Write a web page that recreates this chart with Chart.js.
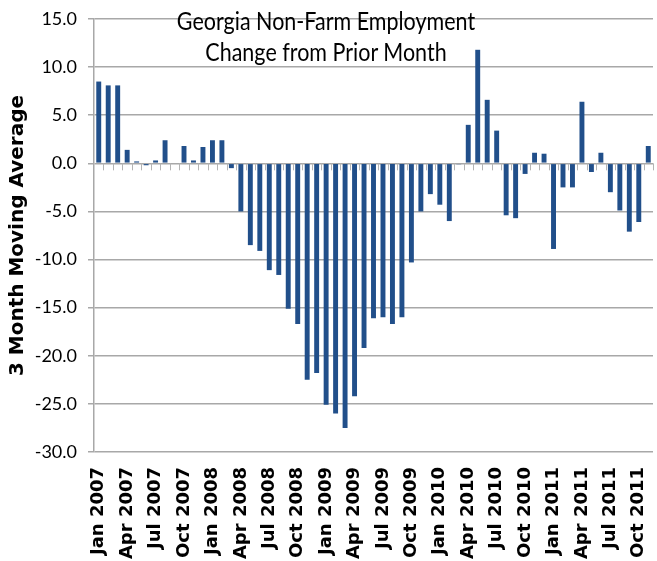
<!DOCTYPE html>
<html>
<head>
<meta charset="utf-8">
<script src="https://cdn.jsdelivr.net/npm/chart.js@4.4.1/dist/chart.umd.min.js"></script>
<style>
  html, body { margin: 0; padding: 0; background: #fff; }
  #wrap { position: relative; width: 657px; height: 561px; }
  #title {
    position: absolute; left: 126px; width: 400px; top: 6px;
    text-align: center; font-family: Lato, sans-serif; font-size: 21.5px;
    line-height: 27px; color: #000; white-space: nowrap; pointer-events: none;
    transform: scaleY(1.15); transform-origin: top center;
  }
</style>
</head>
<body>
<div id="wrap">
  <canvas id="empChart" width="657" height="561"></canvas>
  <div id="title">Georgia Non-Farm Employment<br>Change from Prior Month</div>
</div>
<script>
// Georgia non-farm jobs, change from prior month (3 month moving average, thousands)
const categories = [
  'Jan 2007', 'Feb 2007', 'Mar 2007', 'Apr 2007', 'May 2007', 'Jun 2007',
  'Jul 2007', 'Aug 2007', 'Sep 2007', 'Oct 2007', 'Nov 2007', 'Dec 2007',
  'Jan 2008', 'Feb 2008', 'Mar 2008', 'Apr 2008', 'May 2008', 'Jun 2008',
  'Jul 2008', 'Aug 2008', 'Sep 2008', 'Oct 2008', 'Nov 2008', 'Dec 2008',
  'Jan 2009', 'Feb 2009', 'Mar 2009', 'Apr 2009', 'May 2009', 'Jun 2009',
  'Jul 2009', 'Aug 2009', 'Sep 2009', 'Oct 2009', 'Nov 2009', 'Dec 2009',
  'Jan 2010', 'Feb 2010', 'Mar 2010', 'Apr 2010', 'May 2010', 'Jun 2010',
  'Jul 2010', 'Aug 2010', 'Sep 2010', 'Oct 2010', 'Nov 2010', 'Dec 2010',
  'Jan 2011', 'Feb 2011', 'Mar 2011', 'Apr 2011', 'May 2011', 'Jun 2011',
  'Jul 2011', 'Aug 2011', 'Sep 2011', 'Oct 2011', 'Nov 2011'
];
const movingAvg = [
  8.5, 8.1, 8.1, 1.4, 0.2, -0.2, 0.3, 2.4, 0.0, 1.8, 0.3, 1.7,
  2.4, 2.4, -0.5, -5.0, -8.5, -9.1, -11.1, -11.6, -15.1, -16.7, -22.5, -21.8,
  -25.1, -26.0, -27.5, -24.2, -19.2, -16.1, -16.0, -16.7, -16.0, -10.3, -5.0, -3.2,
  -4.3, -6.0, -0.1, 4.0, 11.8, 6.6, 3.4, -5.4, -5.7, -1.1, 1.1, 1.0,
  -8.9, -2.5, -2.5, 6.4, -0.9, 1.1, -3.0, -4.9, -7.1, -6.1, 1.8
];
const yMin = -30;
const yMax = 15;
const yStep = 5;

// small tick marks hanging under the zero line between months
const zeroTicks = {
  id: 'zeroTicks',
  afterDatasetsDraw(chart) {
    const { ctx, scales: { x, y } } = chart;
    const y0 = y.getPixelForValue(0);
    const half = (x.getPixelForValue(1) - x.getPixelForValue(0)) / 2;
    ctx.save();
    ctx.strokeStyle = '#b4b4b4';
    ctx.lineWidth = 1;
    ctx.beginPath();
    for (let i = 1; i <= categories.length; i++) {
      const px = Math.round(x.getPixelForValue(i) - half) + 0.5;
      ctx.moveTo(px, y0);
      ctx.lineTo(px, y0 + 7);
    }
    ctx.stroke();
    ctx.restore();
  }
};

new Chart(document.getElementById('empChart'), {
  type: 'bar',
  data: {
    labels: categories,
    datasets: [{
      data: movingAvg,
      backgroundColor: '#214f8a',
      borderWidth: 0,
      barPercentage: 0.52,
      categoryPercentage: 1.0
    }]
  },
  options: {
    responsive: false,
    animation: false,
    layout: { padding: { top: 19, right: 4, left: 0, bottom: 0 } },
    plugins: {
      legend: { display: false },
      tooltip: { enabled: false }
    },
    scales: {
      x: {
        grid: { display: false, drawTicks: false },
        border: { display: false },
        ticks: {
          autoSkip: false,
          maxRotation: 90,
          minRotation: 90,
          padding: 15,
          color: '#000',
          font: { family: 'DejaVu Sans', weight: 'bold', size: 18 },
          callback: function(value, index) {
            return index % 3 === 0 ? categories[index] : '';
          }
        },
        afterFit: function(scale) {
          scale.height = 109;
          scale.paddingLeft = 0;
          scale.paddingRight = 0;
        }
      },
      y: {
        min: yMin,
        max: yMax,
        ticks: {
          stepSize: yStep,
          padding: 11,
          color: '#000',
          font: { family: 'Lato', size: 18 },
          callback: function(v) { return v.toFixed(1); }
        },
        grid: { color: '#a8a8a8', lineWidth: 1.5, tickLength: 6, tickColor: '#a8a8a8' },
        border: { color: '#a8a8a8', width: 1.5 },
        title: {
          display: true,
          text: '3 Month Moving Average',
          color: '#000',
          padding: { top: 6, bottom: 0 },
          font: { family: 'DejaVu Sans', weight: 'bold', size: 20 }
        },
        afterFit: function(scale) {
          scale.width = 94;
          scale.paddingTop = 0;
          scale.paddingBottom = 0;
        }
      }
    }
  },
  plugins: [zeroTicks]
});
</script>
</body>
</html>
